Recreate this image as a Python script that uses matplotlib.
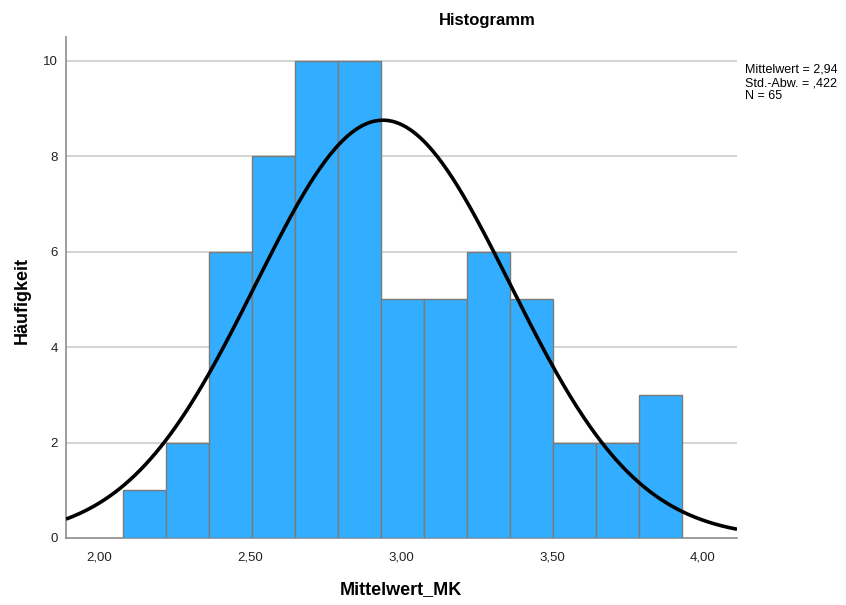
import numpy as np
import matplotlib
matplotlib.use("Agg")
import matplotlib.pyplot as plt

plt.rcParams['font.family'] = ['Liberation Sans', 'DejaVu Sans']

# Data
counts = [1, 2, 6, 8, 10, 10, 5, 5, 6, 5, 2, 2, 3]
bin_start = 2.078
bin_width = 0.1425
mean = 2.94
sd = 0.422
n = 65
xticks = [2.0, 2.5, 3.0, 3.5, 4.0]
xtick_labels = ["2,00", "2,50", "3,00", "3,50", "4,00"]
yticks = [0, 2, 4, 6, 8, 10]

fig = plt.figure(figsize=(8.46, 6.05), dpi=100)
ax = fig.add_axes([66/846, 1-538/605, (737-66)/846, (538-37)/605])

lefts = bin_start + bin_width*np.arange(len(counts))
ax.bar(lefts, counts, width=bin_width, align='edge', color='#33adff',
       edgecolor='#7a7a7a', linewidth=1.0, zorder=3)

x0, x1 = 1.89, 4.113
xs = np.linspace(x0, x1, 400)
ys = n*bin_width/(sd*np.sqrt(2*np.pi))*np.exp(-0.5*((xs-mean)/sd)**2)
ax.plot(xs, ys, color='black', linewidth=2.6, zorder=4, solid_capstyle='butt')

ax.set_xlim(x0, x1)
ax.set_ylim(0, 10.5)
ax.set_xticks(xticks)
ax.set_xticklabels(xtick_labels)
ax.set_yticks(yticks)
ax.tick_params(length=0, labelsize=9.5, colors='#222222', pad=6)
ax.tick_params(axis='x', pad=10)
for y in yticks[1:]:
    ax.axhline(y, color='#cccccc', linewidth=1.2, zorder=1)
for s in ['top', 'right']:
    ax.spines[s].set_visible(False)
for s in ['left', 'bottom']:
    ax.spines[s].set_color('#8c8c8c')
    ax.spines[s].set_linewidth(1.2)

fig.text(487/846, 1-20/605, "Histogramm", ha='center', va='center',
         fontsize=12, fontweight='bold')
fig.text(22/846, 1-300/605, "Häufigkeit", ha='center', va='center',
         rotation=90, fontsize=13, fontweight='bold')
fig.text(401/846, 1-590/605, "Mittelwert_MK", ha='center', va='center',
         fontsize=13, fontweight='bold')
fig.text(745/846, 1-64/605, "Mittelwert = 2,94\nStd.-Abw. = ,422\nN = 65",
         ha='left', va='top', fontsize=9, linespacing=1.12)

fig.savefig("out.png", dpi=100)
